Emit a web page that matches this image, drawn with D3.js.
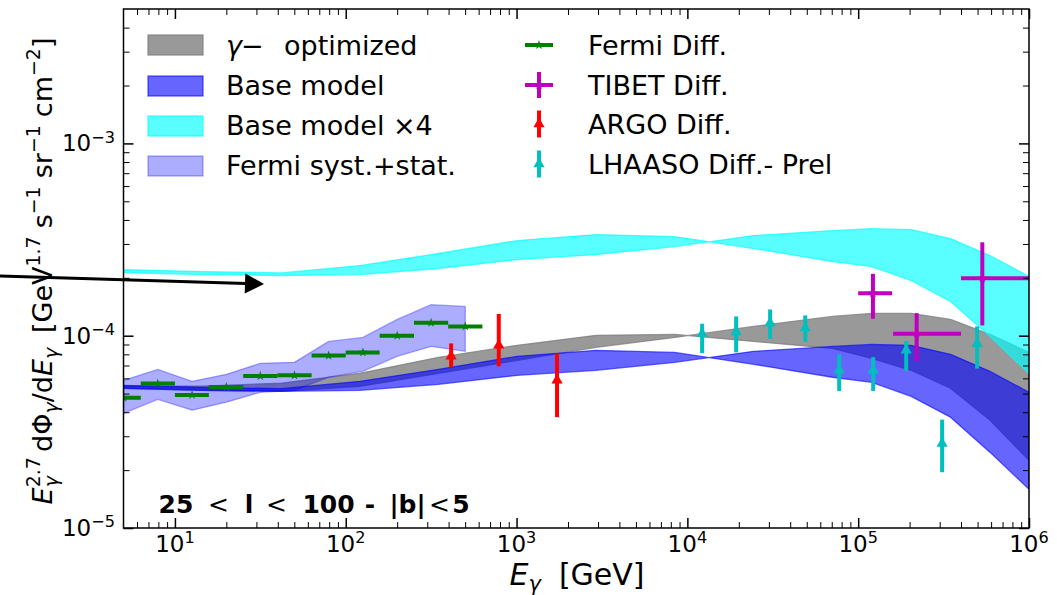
<!DOCTYPE html>
<html>
<head>
<meta charset="utf-8">
<script src="https://cdn.jsdelivr.net/npm/d3@7"></script>
<style>
  body { margin: 0; background: #fff; }
  svg { display: block; }
  text { font-family: "DejaVu Sans", sans-serif; fill: #000; }
</style>
</head>
<body>
<svg id="chart" width="1057" height="595"></svg>
<script>
// ---- model grid (GeV) and model bands: E^2.7 dPhi/dE [GeV^1.7 s^-1 sr^-1 cm^-2] ----
const modelEnergy = [5.0, 14.4, 41.8, 120.8, 349, 1009, 2920, 8450, 24400, 70600, 120000, 204000, 347000, 590000, 1000000];
const baseModelA  = [5.52e-5, 5.39e-5, 5.30e-5, 5.79e-5, 6.69e-5, 7.81e-5, 8.39e-5, 8.19e-5, 7.10e-5, 6.08e-5, 5.72e-5, 4.84e-5, 3.77e-5, 2.48e-5, 1.59e-5];
const baseModelB  = [5.33e-5, 5.20e-5, 5.14e-5, 5.20e-5, 5.59e-5, 6.22e-5, 6.61e-5, 7.27e-5, 8.29e-5, 8.80e-5, 9.01e-5, 8.91e-5, 8.00e-5, 6.53e-5, 5.08e-5];
const gammaOptA   = [5.46e-5, 5.46e-5, 5.66e-5, 6.37e-5, 7.72e-5, 8.91e-5, 1.004e-4, 1.016e-4, 9.34e-5, 8.59e-5, 7.63e-5, 6.61e-5, 5.33e-5, 3.64e-5, 2.25e-5];
const gammaOptB   = [5.33e-5, 5.20e-5, 5.14e-5, 5.46e-5, 6.37e-5, 7.45e-5, 8.70e-5, 9.80e-5, 1.118e-4, 1.260e-4, 1.306e-4, 1.306e-4, 1.215e-4, 1.016e-4, 8.19e-5];
const baseModelFactor = 4;

// ---- Fermi-LAT diffuse ----
const fermiEnergy   = [5.01, 7.94, 12.6, 20.0, 31.6, 50.1, 79.4, 126, 200, 316, 501];
const fermiEmin     = [3.98, 6.31, 10.0, 15.8, 25.1, 39.8, 63.1, 100, 158, 251, 398];
const fermiEmax     = [6.31, 10.0, 15.8, 25.1, 39.8, 63.1, 100, 158, 251, 398, 631];
const fermiFlux     = [4.76e-5, 5.64e-5, 4.92e-5, 5.41e-5, 6.17e-5, 6.22e-5, 7.88e-5, 8.19e-5, 1.0e-4, 1.168e-4, 1.117e-4];
const fermiBandLow  = [3.95e-5, 4.67e-5, 4.10e-5, 4.51e-5, 5.08e-5, 5.20e-5, 6.08e-5, 6.53e-5, 7.81e-5, 8.80e-5, 8.29e-5];
const fermiBandHigh = [5.86e-5, 6.68e-5, 5.79e-5, 6.30e-5, 7.18e-5, 7.27e-5, 9.34e-5, 9.80e-5, 1.215e-4, 1.45e-4, 1.42e-4];

// ---- Tibet AS-gamma diffuse ----
const tibetEnergy = [1.22e5, 2.2e5, 5.33e5];
const tibetEmin   = [1.0e5, 1.6e5, 4.0e5];
const tibetEmax   = [1.58e5, 4.0e5, 1.0e6];
const tibetFlux   = [1.664e-4, 1.024e-4, 1.991e-4];
const tibetLow    = [1.225e-4, 7.38e-5, 1.131e-4];
const tibetHigh   = [2.098e-4, 1.31e-4, 3.06e-4];

// ---- ARGO-YBJ diffuse ----
const argoEnergy = [414, 787, 1726];
const argoFlux   = [7.81e-5, 8.91e-5, 5.86e-5];
const argoLow    = [6.85e-5, 6.93e-5, 3.77e-5];
const argoHigh   = [9.12e-5, 1.298e-4, 8.09e-5];

// ---- LHAASO diffuse (preliminary) ----
const lhaasoEnergy = [1.22e4, 1.93e4, 3.05e4, 4.9e4, 7.74e4, 1.224e5, 1.91e5, 3.10e5, 4.97e5];
const lhaasoFlux   = [1.024e-4, 1.044e-4, 1.165e-4, 1.098e-4, 6.61e-5, 6.61e-5, 8.39e-5, 2.75e-5, 9.09e-5];
const lhaasoLow    = [8.12e-5, 8.19e-5, 9.63e-5, 9.29e-5, 5.16e-5, 5.16e-5, 6.55e-5, 1.95e-5, 6.74e-5];
const lhaasoHigh   = [1.154e-4, 1.260e-4, 1.369e-4, 1.275e-4, 7.97e-5, 7.74e-5, 9.38e-5, 3.66e-5, 1.118e-4];

// ---- axis ticks ----
const xTickExponents = [1, 2, 3, 4, 5, 6];
const yTickExponents = [-5, -4, -3];

// ---------------------------------------------------------------
const svg = d3.select("#chart");
const pLeft = 123.5, pRight = 1029, pTop = 9, pBottom = 528;
const x = d3.scaleLog().domain([5, 1e6]).range([pLeft, pRight]);
const y = d3.scaleLog().domain([1e-5, 5e-3]).range([pBottom, pTop]);

svg.append("defs").append("clipPath").attr("id", "plotClip")
  .append("rect").attr("x", pLeft).attr("y", pTop)
  .attr("width", pRight - pLeft).attr("height", pBottom - pTop);
const plot = svg.append("g").attr("clip-path", "url(#plotClip)");

// piecewise sub/superscript text laid out run by run
function mathLabel(parent, runs, size, weight) {
  const g = parent.append("g");
  let cx = 0, prevStart = 0;
  runs.forEach(r => {
    if (r.gap !== undefined) { cx += r.gap * size; return; }
    const fs = size * (r.sc || 1);
    const start = r.stack ? prevStart : cx;
    const t = g.append("text")
      .attr("x", start).attr("y", -(r.up || 0) * size)
      .attr("font-size", fs)
      .attr("font-style", r.it ? "italic" : "normal")
      .attr("font-weight", r.bold ? "bold" : (weight || "normal"))
      .text(r.t);
    const w = t.node().getComputedTextLength();
    prevStart = start;
    cx = Math.max(cx, start + w);
  });
  return { g, width: cx };
}

// ---- bands ----
const area = d3.area().x(d => x(d.e)).y0(d => y(d.a)).y1(d => y(d.b));
function rows(es, a, b, k) { return es.map((e, i) => ({ e, a: a[i] * k, b: b[i] * k })); }
function drawBand(data, color, alpha) {
  plot.append("path").attr("d", area(data))
    .attr("fill", color).attr("fill-opacity", alpha)
    .attr("stroke", color).attr("stroke-opacity", alpha)
    .attr("stroke-width", 1.3).attr("stroke-linejoin", "round");
}
const GRAY = "#808080", BLUE = "#0000ff", CYAN = "#00ffff";
const bandStyles = [
  { color: GRAY, alpha: 0.8 },
  { color: BLUE, alpha: 0.6 },
  { color: CYAN, alpha: 0.65 },
  { color: BLUE, alpha: 0.32 }
];
drawBand(rows(modelEnergy, gammaOptA, gammaOptB, 1), GRAY, 0.8);
drawBand(rows(modelEnergy, baseModelA, baseModelB, 1), BLUE, 0.6);
drawBand(rows(modelEnergy, baseModelA, baseModelB, baseModelFactor), CYAN, 0.65);
drawBand(rows(fermiEnergy, fermiBandLow, fermiBandHigh, 1), BLUE, 0.32);

// ---- error bars ----
const LW = 4;
function seg(g, x1, y1, x2, y2, color) {
  g.append("line").attr("x1", x1).attr("y1", y1).attr("x2", x2).attr("y2", y2)
    .attr("stroke", color).attr("stroke-width", LW);
}
const star = d3.symbol(d3.symbolStar).size(28);
const tri = d3.symbol(d3.symbolTriangle).size(55);
function marker(g, sym, cx, cy, color) {
  g.append("path").attr("d", sym()).attr("transform", `translate(${cx},${cy})`).attr("fill", color);
}

const FERMI = "#008000", TIBET = "#bf00bf", ARGO = "#ff0000", LHAASO = "#00bfbf";

fermiEnergy.forEach((e, i) => {
  seg(plot, x(fermiEmin[i]), y(fermiFlux[i]), x(fermiEmax[i]), y(fermiFlux[i]), FERMI);
  marker(plot, star, x(e), y(fermiFlux[i]), FERMI);
});
tibetEnergy.forEach((e, i) => {
  seg(plot, x(tibetEmin[i]), y(tibetFlux[i]), x(tibetEmax[i]), y(tibetFlux[i]), TIBET);
  seg(plot, x(e), y(tibetLow[i]), x(e), y(tibetHigh[i]), TIBET);
  marker(plot, star, x(e), y(tibetFlux[i]), TIBET);
});
argoEnergy.forEach((e, i) => {
  seg(plot, x(e), y(argoLow[i]), x(e), y(argoHigh[i]), ARGO);
  marker(plot, tri, x(e), y(argoFlux[i]), ARGO);
});
lhaasoEnergy.forEach((e, i) => {
  seg(plot, x(e), y(lhaasoLow[i]), x(e), y(lhaasoHigh[i]), LHAASO);
  marker(plot, tri, x(e), y(lhaasoFlux[i]), LHAASO);
});

// ---- axes (ticks point inward on all four sides) ----
const xMajor = xTickExponents.map(k => Math.pow(10, k));
const xMinor = [];
for (let k = 0; k <= 5; k++) for (let m = 2; m <= 9; m++) {
  const v = m * Math.pow(10, k);
  if (v > 5 && v < 1e6) xMinor.push(v);
}
const yMajor = yTickExponents.map(k => Math.pow(10, k));
const yMinor = [];
for (let k = -5; k <= -3; k++) for (let m = 2; m <= 9; m++) {
  const v = m * Math.pow(10, k);
  if (v < 5e-3) yMinor.push(v);
}

function addAxis(axisFn, scale, values, size, width, tx, ty) {
  const g = svg.append("g").attr("transform", `translate(${tx},${ty})`)
    .call(axisFn(scale).tickValues(values).tickSize(-size).tickSizeOuter(0).tickFormat(() => ""));
  g.select(".domain").remove();
  g.selectAll(".tick line").attr("stroke", "#000").attr("stroke-width", width);
}
addAxis(d3.axisBottom, x, xMajor, 10, 1.5, 0, pBottom);
addAxis(d3.axisBottom, x, xMinor, 6, 1, 0, pBottom);
addAxis(d3.axisTop, x, xMajor, 10, 1.5, 0, pTop);
addAxis(d3.axisTop, x, xMinor, 6, 1, 0, pTop);
addAxis(d3.axisLeft, y, yMajor, 10, 1.5, pLeft, 0);
addAxis(d3.axisLeft, y, yMinor, 6, 1, pLeft, 0);
addAxis(d3.axisRight, y, yMajor, 10, 1.5, pRight, 0);
addAxis(d3.axisRight, y, yMinor, 6, 1, pRight, 0);

svg.append("rect").attr("x", pLeft).attr("y", pTop)
  .attr("width", pRight - pLeft).attr("height", pBottom - pTop)
  .attr("fill", "none").attr("stroke", "#000").attr("stroke-width", 1.5);

// tick labels 10^k
const TICK_FS = 23;
xTickExponents.forEach(k => {
  const lab = mathLabel(svg, [{ t: "10" }, { t: String(k), sc: 0.7, up: 0.38 }], TICK_FS);
  lab.g.attr("transform", `translate(${x(Math.pow(10, k)) - lab.width / 2},552)`);
});
yTickExponents.forEach(k => {
  const lab = mathLabel(svg, [{ t: "10" }, { t: "\u2212" + Math.abs(k), sc: 0.7, up: 0.38 }], TICK_FS);
  lab.g.attr("transform", `translate(${115 - lab.width},${y(Math.pow(10, k)) + 8})`);
});

// axis titles
const xt = mathLabel(svg, [
  { t: "E", it: true }, { t: "\u03b3", it: true, sc: 0.7, up: -0.2 },
  { gap: 0.6 }, { t: "[GeV]" }
], 30);
xt.g.attr("transform", `translate(${577 - xt.width / 2},585)`);

const yt = mathLabel(svg, [
  { t: "E", it: true }, { t: "\u03b3", it: true, sc: 0.7, up: -0.22 },
  { t: "2.7", sc: 0.7, up: 0.45, stack: true },
  { gap: 0.2 }, { t: "d\u03a6" }, { t: "\u03b3", it: true, sc: 0.7, up: -0.22 },
  { t: "/d" }, { t: "E", it: true }, { t: "\u03b3", it: true, sc: 0.7, up: -0.22 },
  { gap: 0.55 }, { t: "[GeV" }, { t: "1.7", sc: 0.7, up: 0.45 },
  { gap: 0.3 }, { t: "s" }, { t: "\u22121", sc: 0.7, up: 0.45 },
  { gap: 0.3 }, { t: "sr" }, { t: "\u22121", sc: 0.7, up: 0.45 },
  { gap: 0.3 }, { t: "cm" }, { t: "\u22122", sc: 0.7, up: 0.45 },
  { t: "]" }
], 27);
yt.g.attr("transform", `translate(52,${271 + yt.width / 2}) rotate(-90)`);

// region annotation
const noteY = 513, noteFS = 25;
[
  { t: "25", cx: 176, b: true }, { t: "<", cx: 218.5 }, { t: "l", cx: 249, b: true },
  { t: "<", cx: 276.5 }, { t: "100", cx: 328.5, b: true }, { t: "-", cx: 370, b: true },
  { t: "|b|", cx: 407.5, b: true }, { t: "<", cx: 439.5 }, { t: "5", cx: 461, b: true }
].forEach(p => {
  svg.append("text").attr("x", p.cx).attr("y", noteY).attr("text-anchor", "middle")
    .attr("font-size", noteFS).attr("font-weight", p.b ? "bold" : "normal").text(p.t);
});

// arrow
const ax0 = 0, ay0 = 276, ax1 = 264, ay1 = 284;
const ang = Math.atan2(ay1 - ay0, ax1 - ax0) * 180 / Math.PI;
svg.append("line").attr("x1", ax0).attr("y1", ay0).attr("x2", ax1 - 18).attr("y2", ay1 - 18 * (ay1 - ay0) / (ax1 - ax0))
  .attr("stroke", "#000").attr("stroke-width", 3);
svg.append("path").attr("d", "M0,0L-19,-10L-19,10Z")
  .attr("transform", `translate(${ax1},${ay1}) rotate(${ang})`).attr("fill", "#000");

// ---- legend ----
const LEG_FS = 27;
const legendBands = ["optimized", "Base model", "Base model \u00d74", "Fermi syst.+stat."];
const legRowY = [45, 86, 126, 166];
const legBase = [54.5, 95, 135, 175];
legendBands.forEach((lab, i) => {
  const st = bandStyles[i];
  svg.append("rect").attr("x", 148).attr("y", legRowY[i] - 10).attr("width", 55).attr("height", 20)
    .attr("fill", st.color).attr("fill-opacity", st.alpha)
    .attr("stroke", st.color).attr("stroke-opacity", st.alpha).attr("stroke-width", 1.3);
  if (i === 0) {
    const t = svg.append("text").attr("x", 226).attr("y", legBase[i]).attr("font-size", LEG_FS);
    t.append("tspan").attr("font-style", "italic").text("\u03b3");
    t.append("tspan").attr("dx", -1).text("\u2212");
    svg.append("text").attr("x", 284).attr("y", legBase[i]).attr("font-size", LEG_FS).text(lab);
  } else {
    svg.append("text").attr("x", 226).attr("y", legBase[i]).attr("font-size", LEG_FS).text(lab);
  }
});

const legendPoints = ["Fermi Diff.", "TIBET Diff.", "ARGO Diff.", "LHAASO Diff.- Prel"];
const legPtY = [45, 85, 124, 164];
const legPtBase = [55, 94.5, 134, 174];
const lx = 539;
const leg = svg.append("g");
seg(leg, lx - 14, legPtY[0], lx + 14, legPtY[0], FERMI);
marker(leg, star, lx, legPtY[0], FERMI);
seg(leg, lx - 14, legPtY[1], lx + 14, legPtY[1], TIBET);
seg(leg, lx, legPtY[1] - 13, lx, legPtY[1] + 13, TIBET);
marker(leg, star, lx, legPtY[1], TIBET);
seg(leg, lx, legPtY[2] - 13.5, lx, legPtY[2] + 13.5, ARGO);
marker(leg, tri, lx, legPtY[2], ARGO);
seg(leg, lx, legPtY[3] - 13.5, lx, legPtY[3] + 13.5, LHAASO);
marker(leg, tri, lx, legPtY[3], LHAASO);
legendPoints.forEach((lab, i) => {
  svg.append("text").attr("x", 588).attr("y", legPtBase[i]).attr("font-size", LEG_FS).text(lab);
});
</script>
</body>
</html>
